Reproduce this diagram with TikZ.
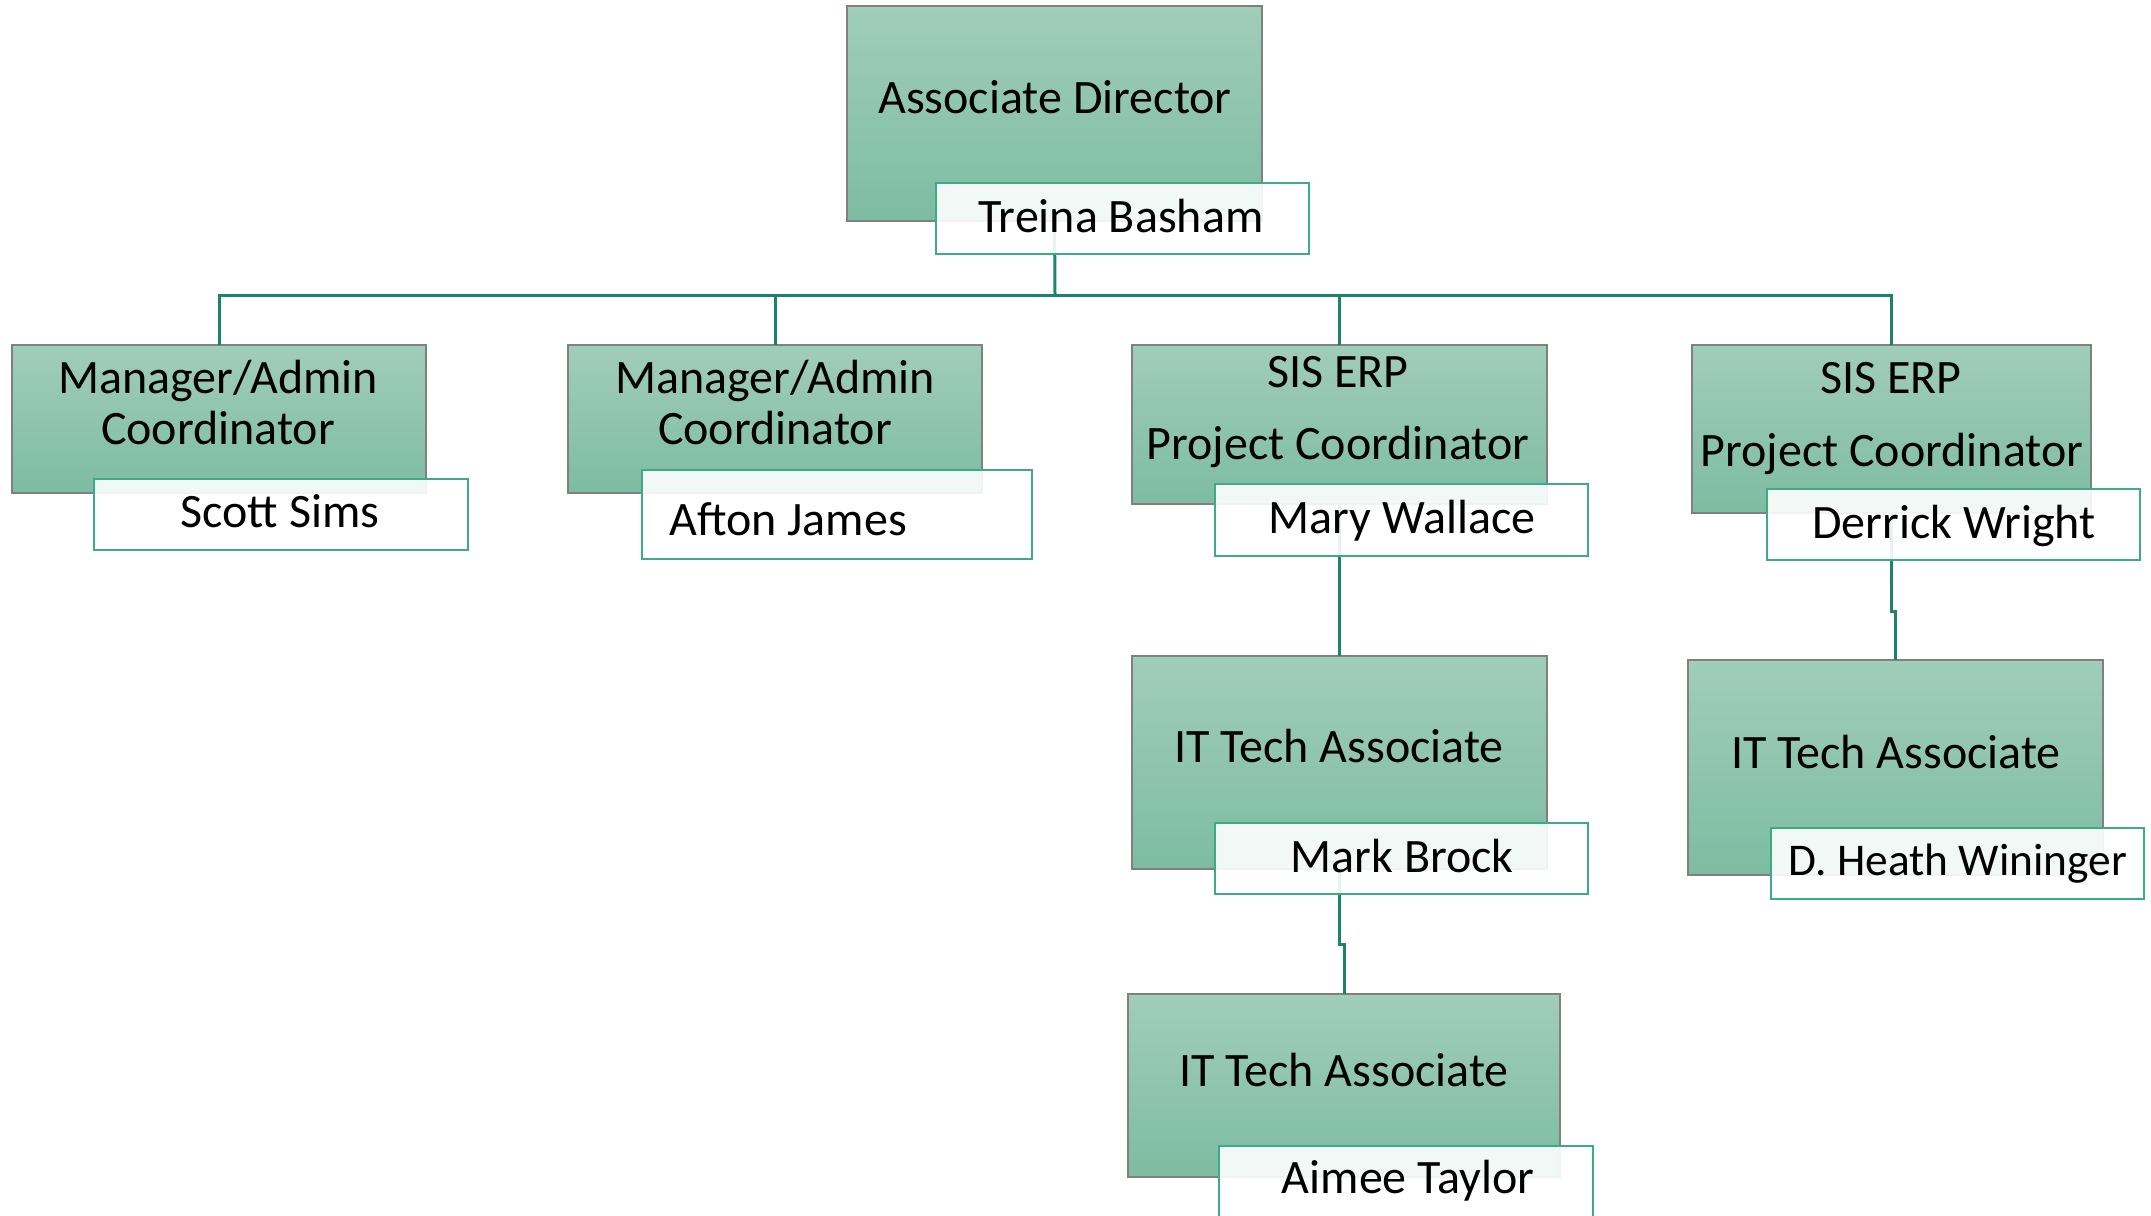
\documentclass[tikz,border=0pt]{standalone}
\usepackage{fontspec}
\setmainfont{Carlito}
\definecolor{boxtop}{HTML}{A1CDBB}
\definecolor{boxbot}{HTML}{7DBCA2}
\definecolor{boxedge}{HTML}{808080}
\definecolor{nameedge}{HTML}{3DAA88}
\definecolor{connc}{HTML}{1E8468}
\newcommand{\orgbox}[6]{%
  \node[#1, minimum width={(#5-#3)*0.5pt}, minimum height={(#6-#4)*0.5pt}] (#2) at ({(#3+#5)/2},{(#4+#6)/2}) {};}
\tikzset{
  rolebox/.style={draw=boxedge, line width=0.7pt, top color=boxtop, bottom color=boxbot, inner sep=0pt, outer sep=0pt, rectangle},
  namebox/.style={draw=nameedge, line width=0.8pt, fill=white, fill opacity=0.9, draw opacity=1, inner sep=0pt, outer sep=0pt, rectangle},
  conn/.style={draw=connc, line width=1.5pt},
  lbl/.style={anchor=base, inner sep=0pt, font=\fontsize{24}{26}\selectfont, text=black},
  smalllbl/.style={lbl, font=\fontsize{22.7}{25}\selectfont}
}
\begin{document}
\begin{tikzpicture}[x=0.5pt, y=-0.5pt]
\useasboundingbox (0,0) rectangle (2151,1215);
\clip (0,0) rectangle (2151,1215);
% role boxes
\orgbox{rolebox}{ad}{847}{6}{1262}{221}
\orgbox{rolebox}{m1}{12}{345}{426}{493}
\orgbox{rolebox}{m2}{568}{345}{982}{493}
\orgbox{rolebox}{p3}{1132}{345}{1547}{504}
\orgbox{rolebox}{p4}{1692}{345}{2091}{513}
\orgbox{rolebox}{t3}{1132}{656}{1547}{869}
\orgbox{rolebox}{t4}{1688}{660}{2103}{875}
\orgbox{rolebox}{a5}{1128}{994}{1560}{1177}
% connectors
\coordinate (bus) at (1055,295);
\draw[conn] (ad.south) -- (bus);
\draw[conn] (m1.north) |- (bus) -| (p4.north);
\draw[conn] (bus) -| (m2.north);
\draw[conn] (bus) -| (p3.north);
\draw[conn] (p3.south) -- (t3.north);
\coordinate (j4) at (1891.5,611);
\draw[conn] (p4.south) -- (j4) -| (t4.north);
\coordinate (j5) at (1339.5,944);
\draw[conn] (t3.south) -- (j5) -| (a5.north);
% name boxes
\orgbox{namebox}{nad}{936}{183}{1309}{254}
\orgbox{namebox}{n1}{94}{479}{468}{550}
\orgbox{namebox}{n2}{642}{470}{1032}{559}
\orgbox{namebox}{n3}{1215}{484}{1588}{556}
\orgbox{namebox}{n4}{1767}{489}{2140}{560}
\orgbox{namebox}{nt3}{1215}{823}{1588}{894}
\orgbox{namebox}{nt4}{1771}{828}{2144}{899}
\orgbox{namebox}{na5}{1219}{1146}{1593}{1220}
% texts
\node[lbl] (lad) at (1055,113) {Associate Director};
\node[lbl] (lnad) at (1121,232) {Treina Basham};
\node[lbl] (lm1a) at (218,393) {Manager/Admin};
\node[lbl] (lm1b) at (218,444) {Coordinator};
\node[lbl] (ln1) at (280,527) {Scott Sims};
\node[lbl] (lm2a) at (775,393) {Manager/Admin};
\node[lbl] (lm2b) at (775,444) {Coordinator};
\node[lbl] (ln2) at (788,535) {Afton James};
\node[lbl] (lp3a) at (1338,387) {SIS ERP};
\node[lbl] (lp3b) at (1338,459) {Project Coordinator};
\node[lbl] (ln3) at (1402,533) {Mary Wallace};
\node[lbl] (lp4a) at (1891,393) {SIS ERP};
\node[lbl] (lp4b) at (1892,466) {Project Coordinator};
\node[lbl] (ln4) at (1954,538) {Derrick Wright};
\node[lbl] (lt3) at (1339,762) {IT Tech Associate};
\node[lbl] (lnt3) at (1402,872) {Mark Brock};
\node[lbl] (lt4) at (1896,768) {IT Tech Associate};
\node[smalllbl] (lnt4) at (1958,875) {D. Heath Wininger};
\node[lbl] (la5) at (1344,1086) {IT Tech Associate};
\node[lbl] (lna5) at (1408,1193) {Aimee Taylor};
\end{tikzpicture}
\end{document}
